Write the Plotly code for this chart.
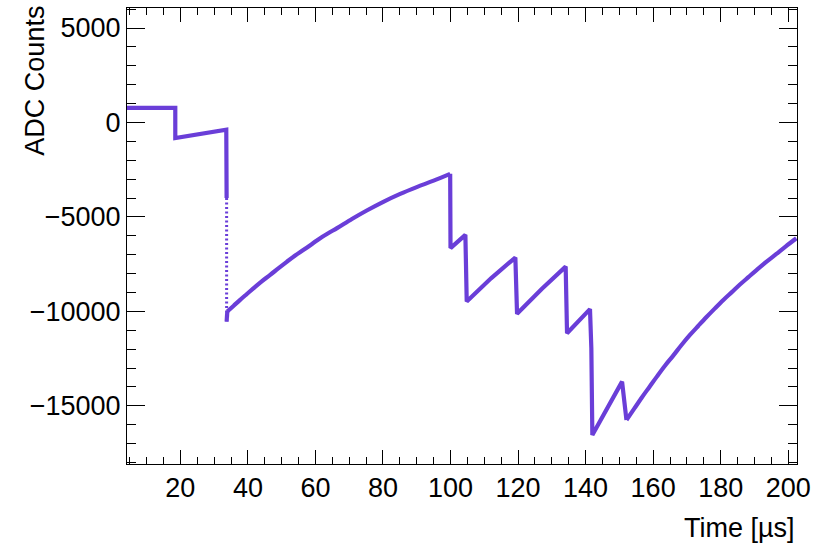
import plotly.graph_objects as go

# Waveform: time [us] and ADC counts
time_us = [4.2, 18.5, 18.5, 33.6, 33.7,
           None,
           33.7, 33.9, 35.8, 37.7, 39.7, 41.7, 44.1, 46.6, 49.1, 51.6, 54.0, 56.5, 59.0, 61.4, 63.9, 66.4,
           70.8, 75.2, 80.1, 85.1, 90.0, 95.0, 99.9,
           100.0, 104.4, 104.8, 112.0, 119.2, 119.7, 127.0, 134.1, 134.5, 141.3, 141.7, 142.0,
           146.4, 150.8, 152.1,
           154.4, 156.6, 158.9, 161.1, 163.5, 166.0, 168.4, 170.9, 173.4, 175.8, 178.3, 180.8,
           183.3, 185.7, 188.2, 190.7, 193.5, 196.4, 199.2, 202.4]
adc_counts = [770, 770, -826, -387, -4000,
              None,
              -10540, -10010, -9700, -9392, -9080, -8772, -8410, -8067, -7710, -7363, -7045, -6743, -6430, -6123, -5850, -5594,
              -5110, -4660, -4200, -3780, -3420, -3080, -2720,
              -6650, -5950, -9480, -8250, -7150, -10130, -8820, -7630, -11160, -9880, -11950, -16540,
              -15080, -13720, -15748,
              -15150, -14570, -14000, -13454, -12880, -12330, -11780, -11246, -10760, -10300, -9840, -9392,
              -8980, -8580, -8190, -7802, -7380, -6970, -6570, -6130]

# Fast drop at ~34 us, drawn as sparse points in the picture
drop_time = [33.7, 33.7]
drop_counts = [-4000, -10540]

x_range = [4.2, 202.6]
y_range = [-18080, 6060]
x_ticks = [20, 40, 60, 80, 100, 120, 140, 160, 180, 200]
y_ticks = [-15000, -10000, -5000, 0, 5000]
y_tick_text = ["\u221215000", "\u221210000", "\u22125000", "0", "5000"]

color = "rgb(106,62,216)"
font = "Liberation Sans, Arial, Helvetica, sans-serif"
fsize = 27
lw = 4.2

# split into smooth recovery parts (spline) and the rest (straight)
i_r1a, i_r1b = time_us.index(33.9), time_us.index(99.9)
i_r3a, i_r3b = time_us.index(152.1), len(time_us) - 1
keep = [i for i in range(len(time_us))
        if not (i_r1a < i < i_r1b or i_r3a < i < i_r3b)]
lin_t = [time_us[i] for i in keep]
lin_v = [adc_counts[i] for i in keep]
# break the straight trace across the smooth parts
lin_t2, lin_v2 = [], []
for k, i in enumerate(keep):
    lin_t2.append(lin_t[k]); lin_v2.append(lin_v[k])
    if i in (i_r1a, i_r3a):
        lin_t2.append(None); lin_v2.append(None)

fig = go.Figure()
fig.add_trace(go.Scatter(x=lin_t2, y=lin_v2, mode="lines",
                         line=dict(color=color, width=lw), connectgaps=False,
                         hoverinfo="skip", showlegend=False))
for a, b in ((i_r1a, i_r1b), (i_r3a, i_r3b)):
    fig.add_trace(go.Scatter(x=time_us[a:b + 1], y=adc_counts[a:b + 1], mode="lines",
                             line=dict(color=color, width=lw, shape="spline", smoothing=1),
                             hoverinfo="skip", showlegend=False))
fig.add_trace(go.Scatter(x=drop_time, y=drop_counts, mode="lines",
                         line=dict(color=color, width=3, dash="2px,2.5px"),
                         hoverinfo="skip", showlegend=False))

axis_common = dict(showgrid=False, zeroline=False, showline=True, linecolor="black",
                   linewidth=1, mirror="ticks", ticks="inside", tickcolor="black",
                   tickwidth=1, tickfont=dict(family=font, size=fsize, color="black"))

fig.update_xaxes(range=x_range, tickvals=x_ticks, ticklen=14,
                 minor=dict(dtick=5, tick0=0, ticks="inside", ticklen=7, tickcolor="black"),
                 **axis_common)
fig.update_yaxes(range=y_range, tickvals=y_ticks, ticktext=y_tick_text, ticklen=18,
                 minor=dict(dtick=1000, tick0=0, ticks="inside", ticklen=9, tickcolor="black"),
                 **axis_common)

fig.add_annotation(text="ADC Counts", textangle=-90, xref="paper", yref="paper",
                   x=-0.137, y=1.01, xanchor="center", yanchor="top", showarrow=False,
                   font=dict(family=font, size=fsize, color="black"))
fig.add_annotation(text="Time [\u00b5s]", xref="paper", yref="paper",
                   x=1.0, y=-0.14, xanchor="right", yanchor="middle", showarrow=False,
                   font=dict(family=font, size=fsize, color="black"))

fig.update_layout(width=819, height=543, plot_bgcolor="white", paper_bgcolor="white",
                  margin=dict(l=127, r=22, t=8, b=79), showlegend=False)

fig.write_html("out.html")
